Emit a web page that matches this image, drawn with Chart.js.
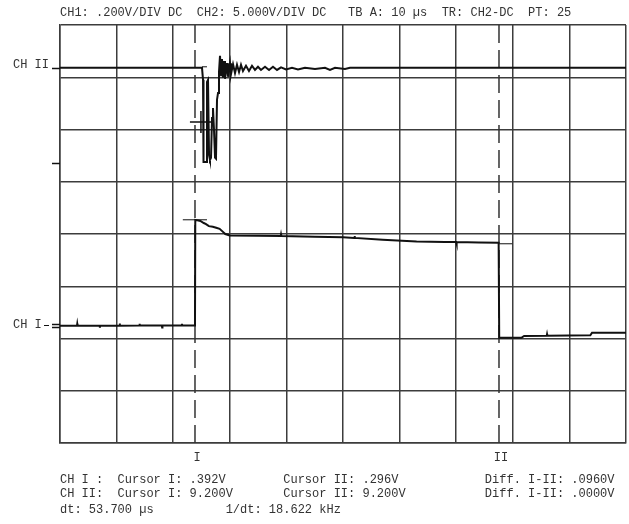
<!DOCTYPE html>
<html>
<head>
<meta charset="utf-8">
<script src="https://cdn.jsdelivr.net/npm/chart.js@4.4.1/dist/chart.umd.min.js"></script>
<style>
  html, body { margin: 0; padding: 0; background: #fff; }
  #scope { display: block; }
</style>
</head>
<body>
<canvas id="scope" width="629" height="524"></canvas>
<script>
// time axis in µs (10 µs/div, 10 div), vertical axis in divisions (8 div)
const xTicks = [0, 10, 20, 30, 40, 50, 60, 70, 80, 90, 100];
const yTicks = [0, 1, 2, 3, 4, 5, 6, 7, 8];

// CH II trace (upper)
const chIITime = [
  0, 25.09, 25.27, 25.27, 25.44, 25.80, 25.97, 26.15, 26.33, 26.50,
  26.68, 26.86, 27.03, 27.21, 27.39, 27.56, 27.74, 27.92, 28.09, 28.27,
  28.45, 28.62, 28.80, 28.98, 29.15, 29.51, 29.68, 30.04, 30.21, 30.57,
  30.92, 31.27, 31.63, 31.98, 32.33, 32.86, 33.39, 33.92, 34.45, 34.98,
  35.51, 36.22, 36.93, 37.63, 38.34, 39.05, 39.93, 40.99, 42.05, 43.29,
  45.05, 46.82, 47.70, 48.59, 50.35, 51.24, 100
];
const chIIDiv = [
  7.18, 7.18, 6.95, 5.95, 5.38, 5.38, 6.91, 6.95, 5.51, 5.42,
  5.46, 6.22, 6.41, 5.99, 5.46, 5.44, 6.57, 6.70, 7.10, 7.41,
  7.04, 7.35, 6.99, 7.31, 6.97, 7.27, 7.01, 7.27, 7.06, 7.25,
  7.08, 7.24, 7.10, 7.24, 7.12, 7.22, 7.12, 7.22, 7.14, 7.20,
  7.14, 7.20, 7.14, 7.20, 7.14, 7.19, 7.15, 7.18, 7.15, 7.18,
  7.16, 7.18, 7.14, 7.18, 7.16, 7.18, 7.18
];

// CH I trace (lower)
const chITime = [
  0, 3.0, 3.05, 3.1, 7.0, 7.05, 7.1, 10.5, 10.55, 10.6,
  14.0, 14.05, 14.1, 18.0, 18.05, 18.1, 21.5, 21.55, 21.6, 23.85,
  23.9, 24.8, 25.4, 25.8, 26.3, 27.0, 27.6, 28.2, 28.7, 29.2,
  30.0, 35.0, 39.0, 39.05, 39.1, 45.0, 50.0, 52.0, 52.05, 52.1,
  57.0, 63.0, 68.0, 70.0, 70.05, 70.1, 74.0, 77.5, 77.6, 81.5,
  82.0, 86.0, 86.05, 86.1, 93.7, 94.0, 100
];
const chIDiv = [
  2.245, 2.245, 2.28, 2.245, 2.245, 2.21, 2.245, 2.245, 2.285, 2.245,
  2.25, 2.28, 2.25, 2.25, 2.21, 2.25, 2.25, 2.28, 2.25, 2.25,
  4.27, 4.25, 4.21, 4.19, 4.15, 4.14, 4.12, 4.10, 4.05, 4.00,
  3.97, 3.965, 3.96, 3.99, 3.96, 3.945, 3.94, 3.925, 3.96, 3.925,
  3.89, 3.855, 3.848, 3.845, 3.815, 3.845, 3.838, 3.832, 2.015, 2.015,
  2.05, 2.052, 2.08, 2.052, 2.06, 2.11, 2.111
];

// thin level segments next to the cursors
const levelStart = [21.7, 77.5, 25.09];
const levelEnd = [25.97, 79.9, 25.97];
const levelDiv = [4.272, 3.813, 7.20];

// cursors
const cursorTime = [23.85, 77.56];
const cursorNames = ["I", "II"];

// trigger cross and left-edge markers
const trigPoint = { x: 24.9, y: 6.145 };
const markerDiv = [7.18, 5.36, 2.28, 2.215];
const chanNames = ["CH II", "CH I"];
const chanDiv = [7.24, 2.26];

const header = "CH1: .200V/DIV DC  CH2: 5.000V/DIV DC   TB A: 10 \u00b5s  TR: CH2-DC  PT: 25";
const readout = [
  "CH I :  Cursor I: .392V        Cursor II: .296V            Diff. I-II: .0960V",
  "CH II:  Cursor I: 9.200V       Cursor II: 9.200V           Diff. I-II: .0000V"
];
const dtLine = "dt: 53.700 \u00b5s          1/dt: 18.622 kHz";

const ink = "#111";
const gridInk = "#3c3c3c";
const font = "12px 'Liberation Mono', 'DejaVu Sans Mono', monospace";

function pts(xs, ys) { return xs.map((x, i) => ({ x: x, y: ys[i] })); }

const datasets = [
  { data: pts(chIITime, chIIDiv), borderColor: ink, borderWidth: 2 },
  { data: pts(chITime, chIDiv), borderColor: ink, borderWidth: 2 }
];
levelStart.forEach((s, i) => {
  datasets.push({ data: [{ x: s, y: levelDiv[i] }, { x: levelEnd[i], y: levelDiv[i] }], borderColor: ink, borderWidth: 1 });
});
cursorTime.forEach((t) => {
  datasets.push({ data: [{ x: t, y: yTicks[0] }, { x: t, y: yTicks[yTicks.length - 1] }], borderColor: "#333", borderWidth: 1.5, borderDash: [18, 7] });
});
datasets.push({ type: "scatter", data: [trigPoint], pointStyle: "cross", pointRadius: 11, pointBorderWidth: 1.5, pointBorderColor: ink });

const overlay = {
  id: "overlay",
  afterDraw(chart) {
    const { ctx, chartArea: a, scales } = chart;
    const x = scales.x, y = scales.y;
    ctx.save();
    ctx.strokeStyle = ink;
    ctx.lineWidth = 1.5;
    markerDiv.forEach((v) => {
      const py = Math.round(y.getPixelForValue(v)) + 0.5;
      ctx.beginPath(); ctx.moveTo(a.left - 8, py); ctx.lineTo(a.left, py); ctx.stroke();
    });
    // small dash between the CH I label and its marker
    const dy = Math.round(y.getPixelForValue(chanDiv[1])) + 0.5;
    ctx.lineWidth = 1;
    ctx.beginPath(); ctx.moveTo(a.left - 16, dy); ctx.lineTo(a.left - 11, dy); ctx.stroke();

    ctx.fillStyle = "#333";
    ctx.font = font;
    ctx.textBaseline = "middle";
    ctx.textAlign = "left";
    chanNames.forEach((n, i) => ctx.fillText(n, 13, y.getPixelForValue(chanDiv[i])));
    ctx.fillText(header, a.left, 13);
    readout.forEach((r, i) => ctx.fillText(r, a.left, a.bottom + 37 + i * 14));
    ctx.fillText(dtLine, a.left, a.bottom + 67);
    ctx.textAlign = "center";
    cursorNames.forEach((n, i) => ctx.fillText(n, x.getPixelForValue(cursorTime[i]) + 2, a.bottom + 15));
    ctx.restore();
  }
};

new Chart(document.getElementById("scope"), {
  type: "line",
  data: { datasets: datasets },
  options: {
    responsive: false,
    animation: false,
    events: [],
    layout: { autoPadding: false, padding: { left: 60, top: 25, right: 3, bottom: 81 } },
    elements: { point: { radius: 0 }, line: { tension: 0 } },
    plugins: { legend: { display: false }, tooltip: { enabled: false } },
    scales: {
      x: {
        type: "linear", min: xTicks[0], max: xTicks[xTicks.length - 1],
        afterBuildTicks: (s) => { s.ticks = xTicks.map((v) => ({ value: v })); },
        ticks: { display: false },
        grid: { color: gridInk, lineWidth: 1.5, drawTicks: false },
        border: { display: true, color: gridInk, width: 1.5 }
      },
      y: {
        type: "linear", min: yTicks[0], max: yTicks[yTicks.length - 1],
        afterBuildTicks: (s) => { s.ticks = yTicks.map((v) => ({ value: v })); },
        ticks: { display: false },
        grid: { color: gridInk, lineWidth: 1.5, drawTicks: false },
        border: { display: true, color: gridInk, width: 1.5 }
      }
    }
  },
  plugins: [overlay]
});
</script>
</body>
</html>
